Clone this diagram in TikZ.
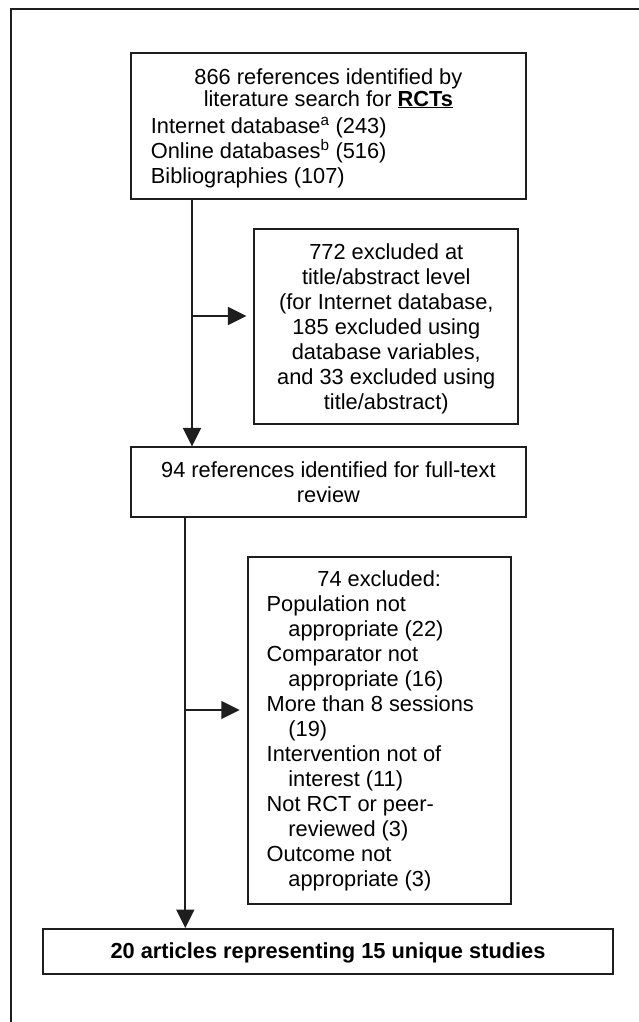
\documentclass[tikz,border=0pt]{standalone}
\usepackage{fontspec}
\setmainfont{Liberation Sans}
\usetikzlibrary{arrows.meta}
\definecolor{lc}{HTML}{1E1E1E}
\begin{document}
\begin{tikzpicture}[x=1pt,y=-1pt,
  box/.style={draw=lc, line width=1.9pt, inner sep=0pt, rectangle,
    font=\fontsize{21.8}{25}\selectfont, text=black},
  arr/.style={draw=lc, line width=1.8pt, -{Triangle[length=18.5pt,width=18pt]}},
  frameline/.style={draw=lc, line width=1.8pt}]
\useasboundingbox (0,0) rectangle (639,1022);
\draw[frameline] (10.7,1022) -- (10.7,8.7) -- (639,8.7);

\node[box, minimum width=395.3pt, minimum height=145.6pt] (refs) at (328.4,126.1)
  {\begin{minipage}{355pt}\centering\rule{0pt}{19.7pt}866 references identified by\\[-3pt]
   literature search for \textbf{\underline{RCTs}}\par\vspace{2.3pt}\raggedright
   Internet database\textsuperscript{a} (243)\\
   Online databases\textsuperscript{b} (516)\\
   Bibliographies (107)\end{minipage}};

\node[box, minimum width=264pt, minimum height=195.3pt] (excl1) at (386.3,326.35)
  {\begin{minipage}{250pt}\centering\rule{0pt}{19.9pt}772 excluded at\\
   title/abstract level\\
   (for Internet database,\\
   185 excluded using\\
   database variables,\\
   and 33 excluded using\\
   title/abstract)\end{minipage}};

\node[box, minimum width=395.3pt, minimum height=70pt] (fulltext) at (328.4,482.3)
  {\begin{minipage}{380pt}\centering 94 references identified for full-text\\
   review\end{minipage}};

\node[box, minimum width=263pt, minimum height=347pt] (excl2) at (379.2,730.2)
  {\begin{minipage}{225pt}\centering\rule{0pt}{17.5pt}74 excluded:\par\raggedright
   Population not\\
   \hspace*{21.7pt}appropriate (22)\\
   Comparator not\\
   \hspace*{21.7pt}appropriate (16)\\
   More than 8 sessions\\
   \hspace*{21.7pt}(19)\\
   Intervention not of\\
   \hspace*{21.7pt}interest (11)\\
   Not RCT or peer-\\
   \hspace*{21.7pt}reviewed (3)\\
   Outcome not\\
   \hspace*{21.7pt}appropriate (3)\end{minipage}};

\node[box, minimum width=570.6pt, minimum height=45pt] (final) at (328,951.5)
  {\rule{0pt}{19.5pt}\textbf{20 articles representing 15 unique studies}};

\coordinate (j1) at (192,316);
\coordinate (j2) at (185.3,710);
\draw[arr] (refs.south -| j1) -- (fulltext.north -| j1);
\draw[arr, shorten >=7pt] (j1) -- (excl1.west |- j1);
\draw[arr] (fulltext.south -| j2) -- (final.north -| j2);
\draw[arr, shorten >=7pt] (j2) -- (excl2.west |- j2);
\end{tikzpicture}
\end{document}
